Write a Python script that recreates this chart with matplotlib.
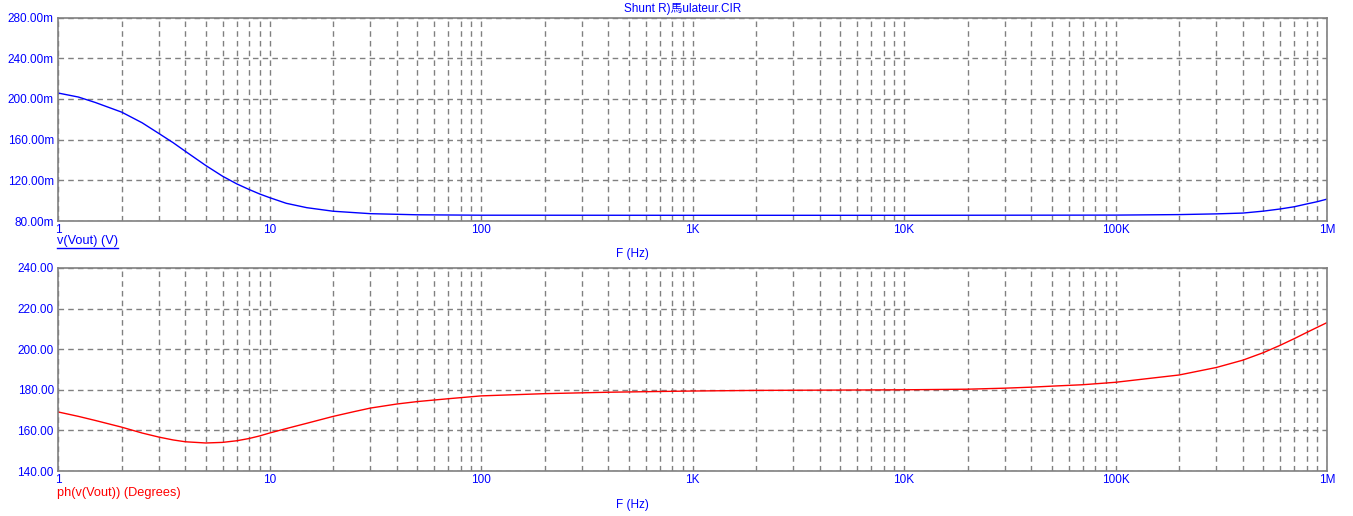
import matplotlib
matplotlib.use("Agg")
import matplotlib.pyplot as plt
from matplotlib.lines import Line2D
from matplotlib.ticker import LogLocator, FixedLocator, NullFormatter

plt.rcParams['font.family'] = ['Liberation Sans', 'Noto Sans CJK JP', 'DejaVu Sans']

# ---- data ----
title = "Shunt R)馬ulateur.CIR"

freq_mag = [1, 1.25, 1.5, 2, 2.5, 3, 3.5, 4, 5, 6, 7, 8, 9, 10, 12, 15, 20, 30, 50, 100,
            1e3, 1e4, 1e5, 2e5, 3e5, 4e5, 5e5, 6e5, 7e5, 8e5, 9e5, 1e6]
mag_mV = [205.8, 201.8, 196.5, 187.0, 176.5, 166.0, 157.0, 148.5, 134.5, 124.0, 116.5,
          111.0, 106.5, 103.0, 97.4, 93.1, 89.6, 87.2, 86.1, 85.7,
          85.6, 85.6, 85.8, 86.3, 87.0, 87.8, 89.7, 91.8, 94.0, 96.7, 99.0, 101.5]

freq_ph = [1, 1.25, 1.5, 2, 2.5, 3, 3.5, 4, 5, 6, 7, 8, 9, 10, 12, 15, 20, 25, 30, 40,
           50, 70, 100, 200, 400, 1e3, 2e3, 1e4, 2e4, 3e4, 4e4, 5e4, 7e4, 1e5, 2e5,
           3e5, 4e5, 5e5, 6e5, 7e5, 8e5, 9e5, 1e6]
phase_deg = [169.1, 166.9, 164.9, 161.6, 158.7, 156.7, 155.3, 154.4, 153.8, 154.1, 154.9,
             156.0, 157.3, 158.7, 160.9, 163.5, 166.9, 169.2, 171.0, 173.0,
             174.2, 175.6, 177.0, 178.1, 178.8, 179.4, 179.7, 180.0, 180.3, 180.8,
             181.3, 181.8, 182.5, 183.7, 187.3, 191.0, 194.6, 198.3, 201.9, 205.2,
             208.2, 210.8, 213.1]

x_ticks = [1, 10, 100, 1e3, 1e4, 1e5, 1e6]
x_ticklabels = ["1", "10", "100", "1K", "10K", "100K", "1M"]

mag_ticks = [80, 120, 160, 200, 240, 280]
mag_ticklabels = ["80.00m", "120.00m", "160.00m", "200.00m", "240.00m", "280.00m"]
ph_ticks = [140, 160, 180, 200, 220, 240]
ph_ticklabels = ["140.00", "160.00", "180.00", "200.00", "220.00", "240.00"]

# ---- layout ----
W, H = 1353, 516
fig = plt.figure(figsize=(W / 100, H / 100), dpi=100)
fig.patch.set_facecolor('white')

def px_axes(x0, y0, x1, y1):
    return fig.add_axes([x0 / W, 1 - y1 / H, (x1 - x0) / W, (y1 - y0) / H])

BLUE = '#0000FF'
RED = '#FF0000'
GRAY = '#808080'
FS = 8.5

def style(ax, yticks, yticklabels):
    ax.set_xscale('log')
    ax.set_xlim(1, 1e6)
    ax.set_ylim(yticks[0], yticks[-1])
    ax.xaxis.set_major_locator(FixedLocator(x_ticks))
    ax.xaxis.set_minor_locator(LogLocator(base=10, subs=range(2, 10), numticks=20))
    ax.xaxis.set_minor_formatter(NullFormatter())
    ax.set_xticklabels(x_ticklabels)
    ax.set_yticks(yticks)
    ax.set_yticklabels(yticklabels)
    ax.tick_params(which='both', length=0, colors=BLUE, labelsize=FS)
    ax.tick_params(axis='x', pad=2)
    ax.tick_params(axis='y', pad=3)
    ax.grid(True, which='both', axis='x', color=GRAY, linestyle=(0, (4, 3)), linewidth=1)
    ax.grid(True, which='major', axis='y', color=GRAY, linestyle=(0, (4, 3)), linewidth=1)
    for s in ax.spines.values():
        s.set_color(GRAY)
        s.set_linewidth(1.2)

ax1 = px_axes(58, 17.5, 1327, 221)
ax1.plot(freq_mag, mag_mV, color=BLUE, linewidth=1)
style(ax1, mag_ticks, mag_ticklabels)

ax2 = px_axes(58, 268, 1327, 471)
ax2.plot(freq_ph, phase_deg, color=RED, linewidth=1)
style(ax2, ph_ticks, ph_ticklabels)

def ftext(x, y, s, fs=FS, **kw):
    fig.text(x / W, 1 - y / H, s, fontsize=fs, **kw)

ftext(683, 9, title, color=BLUE, ha='center', va='center')
ftext(57, 241, "v(Vout) (V)", fs=9.2, color=BLUE, ha='left', va='center')
fig.add_artist(Line2D([57 / W, 118 / W], [1 - 247.5 / H, 1 - 247.5 / H], color=BLUE, linewidth=1))
ftext(632, 254, "F (Hz)", color=BLUE, ha='center', va='center')
ftext(57, 493, "ph(v(Vout)) (Degrees)", fs=9.2, color=RED, ha='left', va='center')
ftext(632, 505, "F (Hz)", color=BLUE, ha='center', va='center')

fig.savefig('out.png', dpi=100, facecolor='white')
